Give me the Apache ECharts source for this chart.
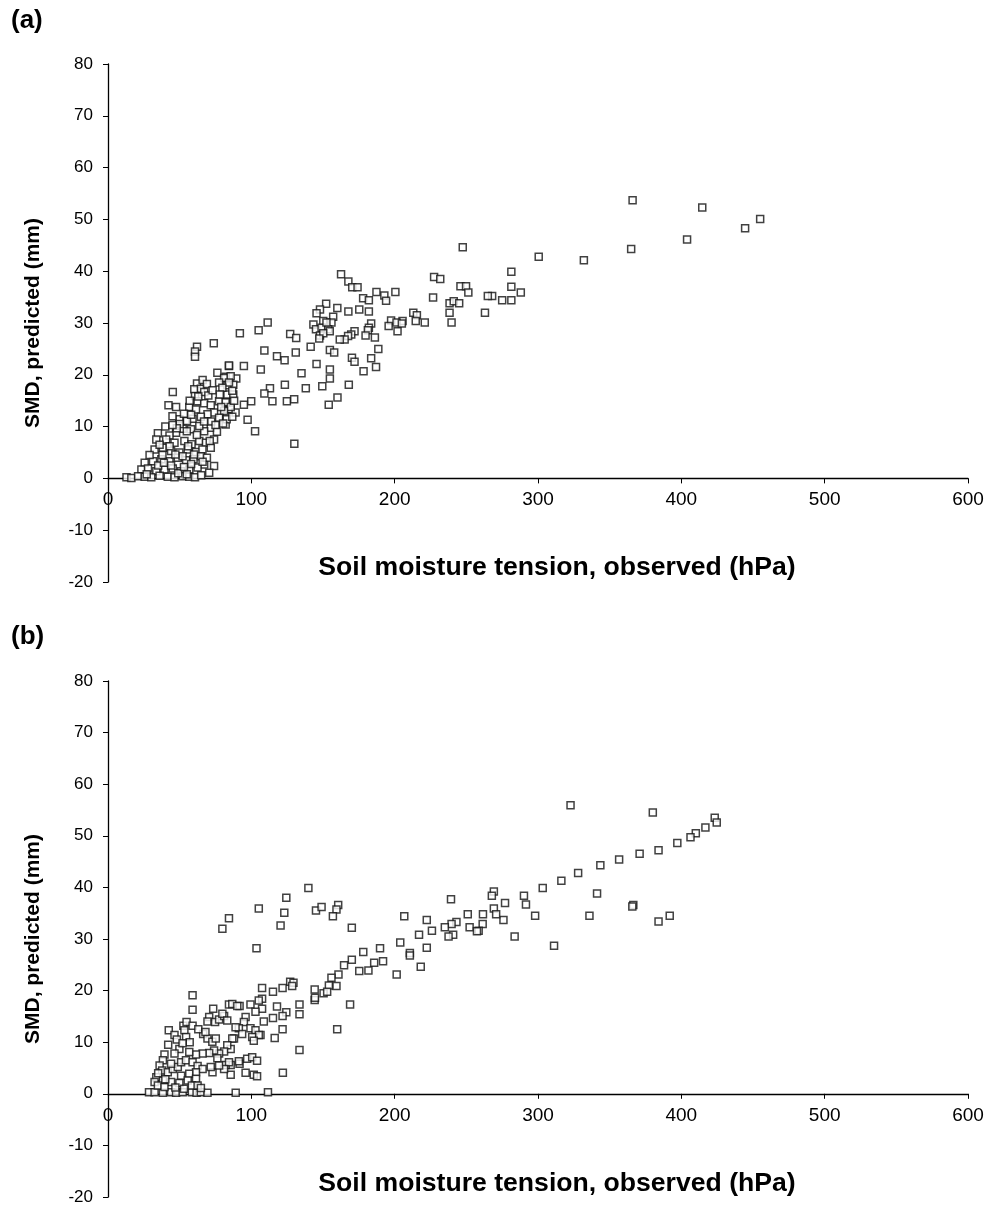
<!DOCTYPE html>
<html>
<head>
<meta charset="utf-8">
<title>SMD vs soil moisture tension</title>
<script src="https://cdn.jsdelivr.net/npm/echarts@6/dist/echarts.min.js"></script>
<style>
  html, body { margin: 0; padding: 0; background: #fff; }
  #chart { width: 994px; height: 1220px; }
</style>
</head>
<body>
<div id="chart"></div>
<script>
// Axis ticks shared by both panels
const xTicks = [0, 100, 200, 300, 400, 500, 600];
const yTicks = [-20, -10, 0, 10, 20, 30, 40, 50, 60, 70, 80];
const panelLabels = ['(a)', '(b)'];
const xTitle = 'Soil moisture tension, observed (hPa)';
const yTitle = 'SMD, predicted (mm)';

// Panel (a): [observed tension (hPa), predicted SMD (mm)]
const pointsA = [
  [366,53.7],[414.6,52.3],[455,50.1],[444.5,48.3],[404,46.1],[365,44.3],[332,42.1],[300.5,42.8],
  [247.5,44.6],[281.4,39.9],[281.4,37.0],[288,35.9],[281.4,34.4],[275,34.4],[268,35.2],[265,35.2],
  [263,32.0],[227.5,38.9],[231.8,38.5],[245.9,37.1],[249.8,37.1],[251.4,35.9],[226.8,34.9],[238.3,33.8],
  [241.2,34.2],[245,33.8],[238.3,32.0],[239.7,30.1],[213,32.0],[215.5,31.5],[214.7,30.4],[221,30.1],
  [205.5,30.4],
  [162.6,39.4],[167.7,38.0],[170.4,36.9],[174.1,36.9],[178,34.8],[182,34.4],[187.3,36.0],[192.8,35.3],
  [194,34.3],[200.5,36.0],[160,32.9],[152.2,33.7],[167.7,32.2],[175.3,32.6],[182,32.2],
  [147.9,32.6],[145.5,31.9],[157.1,31.2],[150.2,30.4],[155.9,30.1],[143.3,29.7],[145.1,28.8],[149,29.1],
  [153.6,28.8],[154.7,28.4],[147.9,27.6],[150.2,28.0],[147.4,27.0],[152.4,30.1],
  [183.6,29.9],[182,29.1],[181.3,28.6],[179.7,27.6],[186.2,27.2],[197.5,30.5],[201.3,30.1],[195.8,29.4],
  [202,28.4],[205,29.9],[172,28.4],[169.7,27.8],[167.5,27.5],[165.1,26.8],[161.7,26.8],
  [188.6,25.0],[183.6,23.2],[187,21.5],[178.3,20.7],[170.2,23.3],[172,22.5],[154.8,24.8],[157.8,24.3],
  [141.4,25.4],[131,24.3],[127.1,27.9],[131.3,27.1],[111.4,30.1],[105.1,28.6],[92,28.0],[109.1,24.7],
  [117.9,23.6],[123.2,22.8],[106.6,21.0],[145.5,22.1],[154.8,21.0],[154.8,19.3],[149.5,17.8],[138,17.4],
  [135,20.3],[123.4,18.1],[113,17.4],[109.1,16.4],[114.7,14.9],[124.8,14.9],[129.9,15.3],[168,18.1],
  [160.1,15.6],[154,14.2],[99.9,14.9],[94.8,14.2],[97.4,11.3],[102.6,9.1],[84.4,21.7],[94.8,21.7],
  [89.5,19.3],[82.1,19.6],[87.4,18.1],[83.3,18.0],[83.3,16.2],[87.4,16.2],[82.1,14.6],[85.6,13.3],
  [89,12.7],[82.8,12.0],[82.1,10.4],[130,6.7],
  [62.1,25.4],[60.7,24.5],[60.7,23.5],[73.8,26.1],[84.4,21.8],[76.3,20.4],[81,19.4],[85.6,19.7],
  [77.5,18.5],[84.4,18.5],[79.8,17.5],[86.7,16.9],[45.2,16.7],[62.1,18.3],[60.2,17.2],[64.8,17.3],
  [67.1,16.7],[60.7,15.9],[62.5,14.9],[42.2,14.1],[47.5,13.8],
  [56.7,13.8],[61.4,13.3],[67.1,14.5],[71.7,14.1],[77.5,14.9],[82.1,14.7],[85.6,13.8],[81,13.0],
  [74,12.7],[69.4,12.4],[64.8,11.9],[59,11.5],[55.1,11.1],[49.8,11.4],[77.5,11.7],[82.8,11.4],
  [86.7,11.9],[80.3,10.6],
  [71.7,9.8],[67.1,9.1],[63.7,10.1],[57.9,9.5],[52.1,9.6],[47.5,8.8],[42.9,8.3],[34.8,8.7],[33.7,7.5],
  [40.6,7.5],[46.4,6.9],[53.3,7.2],[58.3,6.6],[63.7,7.2],[68.3,6.9],[74,7.5],
  [32.5,5.6],[38.3,5.9],[44,5.3],[49.8,5.0],[55.6,5.6],[61.4,5.1],[65.9,5.6],[71.7,5.9],
  [25.6,3.0],[31.4,3.3],[37.2,3.7],[42.9,3.3],[48.7,4.0],[54.5,3.5],[59.7,3.7],[64.8,4.3],[67.1,2.7],
  [74,2.4],[70.6,1.1],
  [23.3,1.7],[27.9,1.9],[33.7,1.4],[39.4,1.7],[45.2,1.9],[51,1.4],[56.7,1.7],[62.5,2.1],
  [12.9,0.2],[16.3,0.1],[21,0.4],[25.6,0.3],[30.2,0.2],[36,0.5],[41.7,0.3],[46.4,0.2],[52.1,0.4],
  [56.7,0.3],[60.7,0.2],
  [50,10.5],[45,12],[40,10],[36,6.5],[53,12.5],[70,16],[66,19],[57,15],[52,4.3],[44,2.5],[58,2.8],
  [69,4],[76,9],[72,11],[88,15],[29,4.5],[38,4.5],[35,2.5],[27,0.8],[49,1],[55,0.8],[65,0.6],
  [67,11],[62,8.4],[56,6.2],[48,9.7],
  [58,12.3],[63,15.8],[69,18.2],[73,17],[78,16.2],[43,6.2],[39,3],[47,4.6],[53,2.2],[60,4.6],[66,3.2],
  [71,7.2],[75,10.3],[79,13.8],[55,9.1],[45,10.3]
];

// Panel (b): [observed tension (hPa), predicted SMD (mm)]
const pointsB = [
  [322.7,55.9],[380.1,54.5],[423.3,53.5],[424.7,52.6],[416.8,51.6],[410.1,50.5],[406.4,49.7],[397.2,48.6],
  [384.1,47.2],[370.9,46.5],[356.6,45.4],[343.5,44.3],[328,42.8],[316.3,41.3],[303.3,39.9],[290.2,38.4],
  [291.6,36.7],[298,34.5],[277,37.0],[275.9,33.7],[269.2,39.2],[267.8,38.4],[269.2,35.9],[270.8,34.8],
  [261.6,34.8],[261.4,32.9],[283.7,30.5],[311.2,28.7],[341.2,38.8],[335.9,34.5],[366.5,36.6],[365.8,36.3],
  [384.1,33.4],[391.9,34.5],[258.6,31.6],
  [139.8,39.9],[124.4,38.0],[123,35.1],[120.4,32.6],[105.2,35.9],[145.1,35.5],[149,36.2],[160.6,36.6],
  [159.4,35.7],[156.9,34.4],[170.1,32.2],[103.6,28.2],[206.7,34.4],[222.4,33.7],[239.3,37.7],[251,34.8],
  [243.1,33.3],[239.7,32.9],[235,32.3],[240.8,30.8],[237.6,30.5],[252.3,32.3],[257.4,31.5],[217,30.8],
  [226,31.6],[222.4,28.3],[218.2,24.6],[203.9,29.3],[210.6,27.3],[210.6,26.8],[189.8,28.2],[191.9,25.7],
  [185.7,25.4],[178.1,27.5],[170.1,26.0],[164.7,24.9],[175.3,23.8],[181.7,23.9],[201.4,23.1],[160.8,23.1],
  [155.9,22.5],[159.4,20.9],[154.1,21.0],[150.4,19.5],[152.9,19.8],[144.2,20.2],[144.2,18.2],[144.4,18.6],
  [133.6,17.3],[133.6,15.4],[168.9,17.3],[159.9,12.5],[133.6,8.5],[127.1,21.7],[129.4,21.5],[128.5,20.9],
  [121.8,20.5],[115.1,19.8],[107.5,20.5],[107.5,18.4],[107.5,16.5],[117.9,16.9],[124.4,15.8],[121.8,15.1],
  [115.1,14.7],[108.7,14.0],[106.4,11.4],[121.8,12.5],[116.3,10.8],
  [84.4,34.0],[122,4.1],[84.4,17.3],[91.8,17.0],[99.4,17.3],[105.2,18.1],[102.9,15.9],[96,14.9],
  [94.8,13.9],[91.3,12.7],[99.4,12.7],[102.9,12.3],[105.2,11.4],[100.6,11.0],[101.7,10.3],[93.6,11.6],
  [87.9,10.7],[85.6,8.7],[85.6,5.6],[85.6,3.7],[91.8,5.8],[96,4.1],[97.1,6.8],[100.6,7.1],[104,6.4],
  [101.7,3.7],[104,3.4],[89.1,0.2],[111.6,0.3],[91.3,6.3],
  [79.8,32.0],[59,19.1],[59,16.3],[42.4,12.3],[46.4,11.4],[52.6,13.2],[54.8,13.9],[59,13.2],[53.3,12.3],
  [54.5,11.0],[66.4,11.6],[69.4,10.7],[72.8,10.1],[75.2,10.7],[73.4,16.5],[70.6,14.9],[69.4,14.0],
  [74.7,13.9],[77.5,14.4],[81,15.1],[79.8,15.5],[83.2,14.2],[86.7,17.4],[90.2,17.0],[89,12.9],[86.7,10.7],
  [83.2,9.4],[81,8.2],[77.5,7.8],[74,8.4],[76.3,6.9],[70.6,7.9],[66,7.8],[61.4,7.6],[56.7,8.1],[49.8,8.7],
  [46.4,7.8],[39.4,7.6],[38.3,6.5],[36,5.5],[37.8,4.5],[41.7,4.2],[45.2,4.8],[48.7,5.2],[51,6.1],[54.4,6.5],
  [59,6.1],[62.5,5.4],[66,4.8],[61.4,4.2],[56.7,3.9],[51,3.5],[33.7,3.2],[32.5,2.3],[38.3,2.6],[44,2.3],
  [49.8,2.1],[55.6,2.6],[61.4,2.9],[82.1,5.6],[84.4,6.1],[81,4.8],[72.9,4.2],[71.7,5.2],[77.5,5.5],
  [28.6,0.3],[32.5,0.3],[38.3,0.2],[44,0.3],[47.5,0.2],[52.1,0.3],[58.5,0.3],[61.8,0.2],[64.8,0.3],
  [69.4,0.2],[58.5,1.6],[62.5,1.6],[64.8,1.1],[34.8,1.6],[39.4,1.3],
  [42,9.5],[48,10.5],[57,10],[63,12.5],[68,12],[52,9.8],[44,5.8],[35,4],[40,2.8],[53,1],[47,1.2]
];

const FONT = "'Liberation Sans', Arial, sans-serif";

const grids = [
  { left: 108, top: 64, width: 860, height: 518 },
  { left: 108, top: 681, width: 860, height: 516 }
];

// The horizontal axis crosses at SMD = 0: shift it up from the grid bottom
// by the share of the vertical range that lies below zero.
function zeroShift(grid) {
  const yMin = yTicks[0], yMax = yTicks[yTicks.length - 1];
  return grid.height * (0 - yMin) / (yMax - yMin);
}

function makeX(i) {
  return {
    type: 'value', gridIndex: i, position: 'bottom',
    offset: -zeroShift(grids[i]),
    min: xTicks[0], max: xTicks[xTicks.length - 1], interval: xTicks[1] - xTicks[0],
    axisLine: { show: true, onZero: false, lineStyle: { color: '#000', width: 1.3 } },
    axisTick: { show: true, inside: false, length: 5, lineStyle: { color: '#000', width: 1 } },
    axisLabel: { color: '#000', fontSize: 19, fontFamily: FONT, margin: 12 },
    splitLine: { show: false },
    name: xTitle, nameLocation: 'middle', nameGap: 76,
    nameTextStyle: { color: '#000', fontSize: 26.6, fontWeight: 'bold', fontFamily: FONT, padding: [0, 0, 0, 38] }
  };
}

function makeY(i) {
  return {
    type: 'value', gridIndex: i,
    min: yTicks[0], max: yTicks[yTicks.length - 1], interval: yTicks[1] - yTicks[0],
    axisLine: { show: true, onZero: false, lineStyle: { color: '#000', width: 1.3 } },
    axisTick: { show: true, inside: false, length: 5, lineStyle: { color: '#000', width: 1 } },
    axisLabel: { color: '#000', fontSize: 17, fontFamily: FONT, margin: 15 },
    splitLine: { show: false },
    name: yTitle, nameLocation: 'middle', nameGap: 64,
    nameTextStyle: { color: '#000', fontSize: 21, fontWeight: 'bold', fontFamily: FONT }
  };
}

function makeSeries(i, data) {
  return {
    type: 'scatter', xAxisIndex: i, yAxisIndex: i, data: data,
    symbol: 'rect', symbolSize: 7,
    itemStyle: { color: '#fff', borderColor: '#111', borderWidth: 1.5 },
    emphasis: { disabled: true },
    silent: true
  };
}

const chart = echarts.init(document.getElementById('chart'), null, { renderer: 'canvas' });
chart.setOption({
  backgroundColor: '#fff',
  animation: false,
  title: [
    { text: panelLabels[0], left: 6, top: 3, textStyle: { fontSize: 26, fontWeight: 'bold', fontFamily: FONT, color: '#000' } },
    { text: panelLabels[1], left: 6, top: 619, textStyle: { fontSize: 26, fontWeight: 'bold', fontFamily: FONT, color: '#000' } }
  ],
  grid: grids,
  xAxis: [makeX(0), makeX(1)],
  yAxis: [makeY(0), makeY(1)],
  series: [makeSeries(0, pointsA), makeSeries(1, pointsB)]
});
</script>
</body>
</html>
